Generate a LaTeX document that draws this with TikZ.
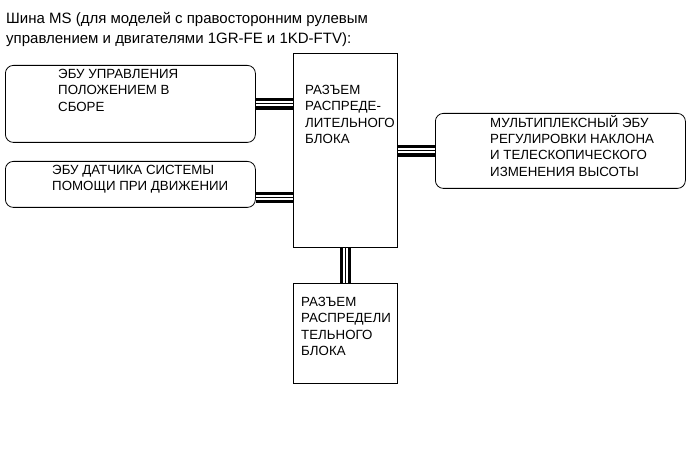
\documentclass[tikz,border=0pt]{standalone}
\usepackage{fontspec}
\setmainfont{Liberation Sans}
\usetikzlibrary{positioning}

\tikzset{
  unit/.style={draw=black, line width=0.8pt, rounded corners=8pt, inner sep=0pt, anchor=north west},
  block/.style={draw=black, line width=0.8pt, inner sep=0pt, anchor=north west},
  caption/.style={font=\fontsize{13.3}{16.2}\selectfont, align=left, inner sep=0pt, anchor=north west},
  bus/.style={draw=white, line width=5pt, preaction={draw=black, line width=11.5pt}, postaction={draw=black, line width=1.1pt}}
}

\begin{document}
\begin{tikzpicture}[x=1pt, y=-1pt]
  \useasboundingbox (0,0) rectangle (691,465);

  % heading
  \node[font=\fontsize{15}{20}\selectfont, align=left, inner sep=0pt, anchor=north west] (title) at (6,12.6)
    {Шина MS (для моделей с правосторонним рулевым\\управлением и двигателями 1GR-FE и 1KD-FTV):};

  % left units
  \node[unit, minimum width=250pt, minimum height=77pt] (ebupos) at (5,65) {};
  \node[caption] (ebupostxt) at (58,69.3) {ЭБУ УПРАВЛЕНИЯ\\ПОЛОЖЕНИЕМ В\\СБОРЕ};

  \node[unit, minimum width=250pt, minimum height=46pt] (ebudrv) at (5,161) {};
  \node[caption] (ebudrvtxt) at (52,165.3) {ЭБУ ДАТЧИКА СИСТЕМЫ\\ПОМОЩИ ПРИ ДВИЖЕНИИ};

  % junction connector, middle
  \node[block, minimum width=104pt, minimum height=194pt] (jb) at (293,53) {};
  \node[caption] (jbtxt) at (305,85.3) {РАЗЪЕМ\\РАСПРЕДЕ-\\ЛИТЕЛЬНОГО\\БЛОКА};

  % right unit
  \node[unit, minimum width=250pt, minimum height=75pt] (ebutilt) at (435,113) {};
  \node[caption] (ebutilttxt) at (490,115.3) {МУЛЬТИПЛЕКСНЫЙ ЭБУ\\РЕГУЛИРОВКИ НАКЛОНА\\И ТЕЛЕСКОПИЧЕСКОГО\\ИЗМЕНЕНИЯ ВЫСОТЫ};

  % junction connector, bottom
  \node[block, minimum width=104pt, minimum height=100pt] (jblow) at (293,283) {};
  \node[caption] (jblowtxt) at (301,297.3) {РАЗЪЕМ\\РАСПРЕДЕЛИ\\ТЕЛЬНОГО\\БЛОКА};

  % bus lines
  \draw[bus] (ebupos.east) -- (ebupos.east -| jb.west);
  \coordinate (drvport) at ([yshift=-13pt]ebudrv.east);
  \draw[bus] (drvport) -- (drvport -| jb.west);
  \draw[bus] (ebutilt.west) -- (ebutilt.west -| jb.east);
  \draw[bus] (jblow.north) -- (jblow.north |- jb.south);
\end{tikzpicture}
\end{document}
